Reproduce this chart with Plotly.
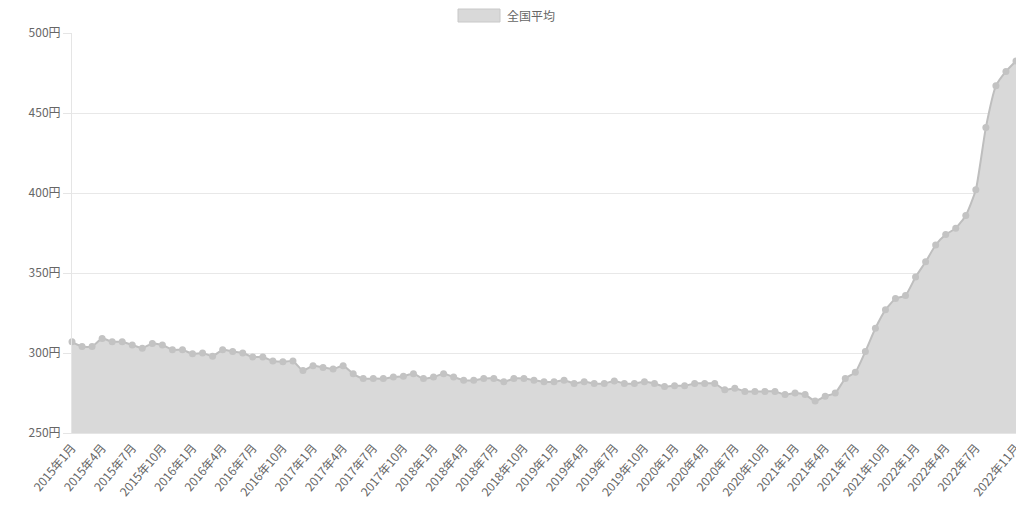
import plotly.graph_objects as go

months = []
for y in range(2015, 2023):
    for m in range(1, 13):
        if y == 2022 and m > 11:
            break
        months.append(f"{y}年{m}月")

values = [
    307, 304, 304, 309, 307, 307, 305, 303, 306, 305, 302, 302,
    299.5, 300, 298, 302, 301, 300, 297.5, 297.5, 295, 294.5, 295, 289,
    292, 291, 290, 292, 287, 284, 284, 284, 285, 285.5, 287, 284,
    285, 287, 285, 283, 283, 284, 284, 282, 284, 284, 283, 282,
    282, 283, 281, 282, 281, 281, 282.5, 281, 281, 282, 281, 279,
    279.5, 279.5, 281, 281, 281, 277, 278, 276, 276, 276, 276, 274,
    275, 274, 270, 273, 275, 284, 288, 301, 315.5, 327, 334, 336,
    347.5, 357, 367.5, 374, 378, 386, 402, 441, 467, 476, 482.5,
]

tick_labels = [mo for i, mo in enumerate(months) if i % 3 == 0 and i < len(months) - 2] + [months[-1]]
y_ticks = [250, 300, 350, 400, 450, 500]
series_name = "全国平均"

font_family = "Noto Sans CJK JP, Noto Sans, sans-serif"

fig = go.Figure()
fig.add_trace(go.Scatter(
    x=months, y=values, name=series_name,
    mode="lines+markers",
    line=dict(color="rgba(190,190,190,1)", width=2, shape="spline", smoothing=0.5),
    marker=dict(color="rgba(195,195,195,1)", size=7),
    fill="tozeroy", fillcolor="rgba(217,217,217,1)",
    showlegend=False, cliponaxis=False,
))

# page body has an 8px default margin; compensate so the plot area sits at x 72..1016, y 33..433
fig.update_layout(
    width=1016, height=504,
    margin=dict(l=64, r=8, t=25, b=79),
    paper_bgcolor="white", plot_bgcolor="white",
    font=dict(family=font_family, size=12, color="#666"),
    showlegend=False,
    xaxis=dict(
        type="category", categoryorder="array", categoryarray=months,
        tickmode="array", tickvals=tick_labels, ticktext=tick_labels,
        tickangle=-50, showgrid=False, zeroline=False,
        showline=True, linecolor="#e5e5e5", linewidth=1,
        ticks="outside", ticklen=2, tickcolor="rgba(0,0,0,0)",
        tickfont=dict(size=12, color="#666"),
        range=[0, len(months) - 1], automargin=False,
    ),
    yaxis=dict(
        range=[250, 500], tickvals=y_ticks,
        ticktext=[f"{v}円" for v in y_ticks],
        showgrid=True, gridcolor="#e8e8e8", gridwidth=1,
        zeroline=False, showline=True, linecolor="#e5e5e5",
        ticks="outside", ticklen=8, tickcolor="#e5e5e5",
        tickfont=dict(size=12, color="#666"), automargin=False,
    ),
    shapes=[dict(
        type="rect", xref="paper", yref="paper",
        x0=(458 - 72) / 944, x1=(500 - 72) / 944,
        y0=(433 - 22) / 400, y1=(433 - 9) / 400,
        fillcolor="rgba(217,217,217,1)", line=dict(color="rgba(200,200,200,1)", width=1),
    )],
    annotations=[dict(
        text=series_name, xref="paper", yref="paper",
        x=(505 - 72) / 944, y=(433 - 15.5) / 400,
        xanchor="left", yanchor="middle", showarrow=False,
        font=dict(size=12, color="#666"),
    )],
)

fig.write_html("out.html")
